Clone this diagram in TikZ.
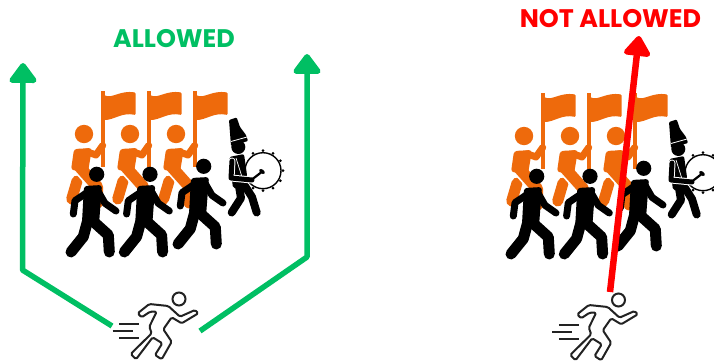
\documentclass[tikz,border=0pt]{standalone}
\usepackage{fontspec}
\setmainfont{Poppins}
\usetikzlibrary{arrows.meta}
\definecolor{bandorange}{HTML}{EE6A0C}
\definecolor{okgreen}{HTML}{00BF63}
\definecolor{nored}{HTML}{FF0000}
\definecolor{runnergray}{HTML}{222222}
\tikzset{
	limb/.style={line cap=round, line join=round, line width=#1},
	title/.style={font=\fontsize{25.4}{26}\selectfont\bfseries, inner sep=0pt},
	okline/.style={okgreen, line width=5.5pt, line join=round, -{Triangle[width=31pt,length=22pt,round]}},
	flagman/.pic={
		\fill[bandorange] (84,134) circle (9.2);
		\fill[bandorange] (100.8,91) rectangle (104.8,167);
		\fill[bandorange, rounded corners=1pt] (104,95) .. controls (112,99) and (120,90) .. (135.5,92.5) -- (135.5,115) .. controls (122,112) and (114,120) .. (104,120) -- cycle;
		\draw[bandorange, limb=11pt] (77,181) -- (71.7,199);
		\draw[white, limb=15pt] (80,167.3) -- (97.3,186.7);
		\draw[bandorange, limb=11.5pt] (80,167.3) -- (97.3,186.7) -- (97.3,202.7);
		\fill[bandorange, rounded corners=3pt] (74,149) -- (92,148) -- (88,172) -- (71,170) -- cycle;
		\draw[bandorange, limb=7pt] (86.7,151.7) -- (96,155) -- (102.7,145.5);
	},
	walker/.pic={
		\fill[black] (96.7,174.3) circle (7.6);
		\fill[black, rounded corners=3pt] (84,186) -- (102,185) -- (99,224) -- (82,222) -- cycle;
		\draw[black, limb=7pt] (88.3,191.7) -- (75,200.7) -- (73.3,214);
		\draw[black, limb=7pt] (98.3,191.7) -- (105,203.3) -- (116,211);
		\draw[black, limb=11pt] (88.3,218.3) -- (83.3,236.7) -- (71,252);
		\draw[black, limb=11pt] (91.7,220) -- (108.3,235) -- (109.3,252);
	},
	drummer/.pic={
		\draw[black, fill=white, line width=1.4pt] (263,170.7) circle (18);
		\foreach \a in {-120,-90,...,120} { \fill[black] (263,170.7) ++(\a:20) circle (1.5); }
		\draw[black, limb=8pt] (239,186) -- (241,198) -- (231.7,212.5);
		\draw[black, limb=8pt] (245,186) -- (252,197) -- (256.7,212.5);
		\fill[black, rounded corners=2pt] (229,157) -- (244,154) -- (247,175) -- (247,190) -- (233,188) -- cycle;
		\draw[white, line width=0.7pt] (236,158) -- (243,180);
		\fill[black] (238.3,147) circle (7);
		\fill[black, rounded corners=1pt] (229,120) -- (236.7,117.5) -- (240,127) -- (246,135) -- (248,141) -- (231,146) -- cycle;
		\draw[white, line width=0.8pt] (231,141.5) -- (247,137);
		\draw[white, limb=7pt] (232,161) -- (231,178) -- (252,180);
		\draw[black, limb=5pt] (232,161) -- (231,178) -- (252,180);
		\draw[black, line width=2.2pt] (250,181) -- (261,172.5);
		\fill[black, rotate around={-38:(262,171.5)}] (262,171.5) ellipse (3.2 and 2);
	},
	runner/.pic={
		\draw[runnergray, line width=2pt] (179,299) circle (6.5);
		\draw[runnergray, line width=2pt, line join=round, rounded corners=1.5pt] (137.7,313.3) -- (149.3,304) -- (168.3,306) -- (180,316.7) -- (195,310) -- (198.3,313.3) -- (181.7,323.3) -- (171.7,317.3) -- (163.3,329.3) -- (171.7,341.7) -- (161.7,359.3) -- (155,355) -- (162.3,343.3) -- (152.7,337.3) -- (136,359.3) -- (130.7,354) -- (151.7,333.3) -- (149.3,326.7) -- (156.7,311.7) -- (150,311.7) -- (141.7,317.3) -- cycle;
		\draw[runnergray, line width=2pt] (119.3,324.3) -- (139.3,324.3);
		\draw[runnergray, line width=2pt] (112.7,331) -- (132.7,331);
		\draw[runnergray, line width=2pt] (119.3,337.7) -- (139.3,337.7);
	},
	band/.pic={
		\foreach \x in {0,46,92} { \pic at (\x,0) {flagman}; }
		\foreach \x/\y in {0/0,53.3/0,107/-8} { \pic at (\x,\y) {walker}; }
		\pic {drummer};
	},
}
\begin{document}
\begin{tikzpicture}[x=1pt,y=-1pt]
	\useasboundingbox (0,0) rectangle (714,362);
	\clip (0,0) rectangle (714,362);
	% left side
	\pic at (0,0) {band};
	\pic at (0,0) {runner};
	\node[title, text=okgreen] (allowed) at (174,39) {ALLOWED};
	\coordinate (startleft) at (112,326);
	\coordinate (bendleft) at (22.5,270);
	\coordinate (tipleft) at (23,63);
	\coordinate (startright) at (200,331);
	\coordinate (bendright) at (307,257);
	\coordinate (tipright) at (307,54);
	\draw[okline] (startleft) -- (bendleft) -- (tipleft);
	\draw[okline] (startright) -- (bendright) -- (tipright);
	% right side
	\pic at (440,2) {band};
	\pic at (439.5,1) {runner};
	\node[title, text=nored] (notallowed) at (610.5,19) {NOT ALLOWED};
	\coordinate (startred) at (610,292);
	\coordinate (tipred) at (639,36);
	\draw[nored, line width=6.5pt, -{Triangle[width=30pt,length=22pt,round]}] (startred) -- (tipred);
\end{tikzpicture}
\end{document}
